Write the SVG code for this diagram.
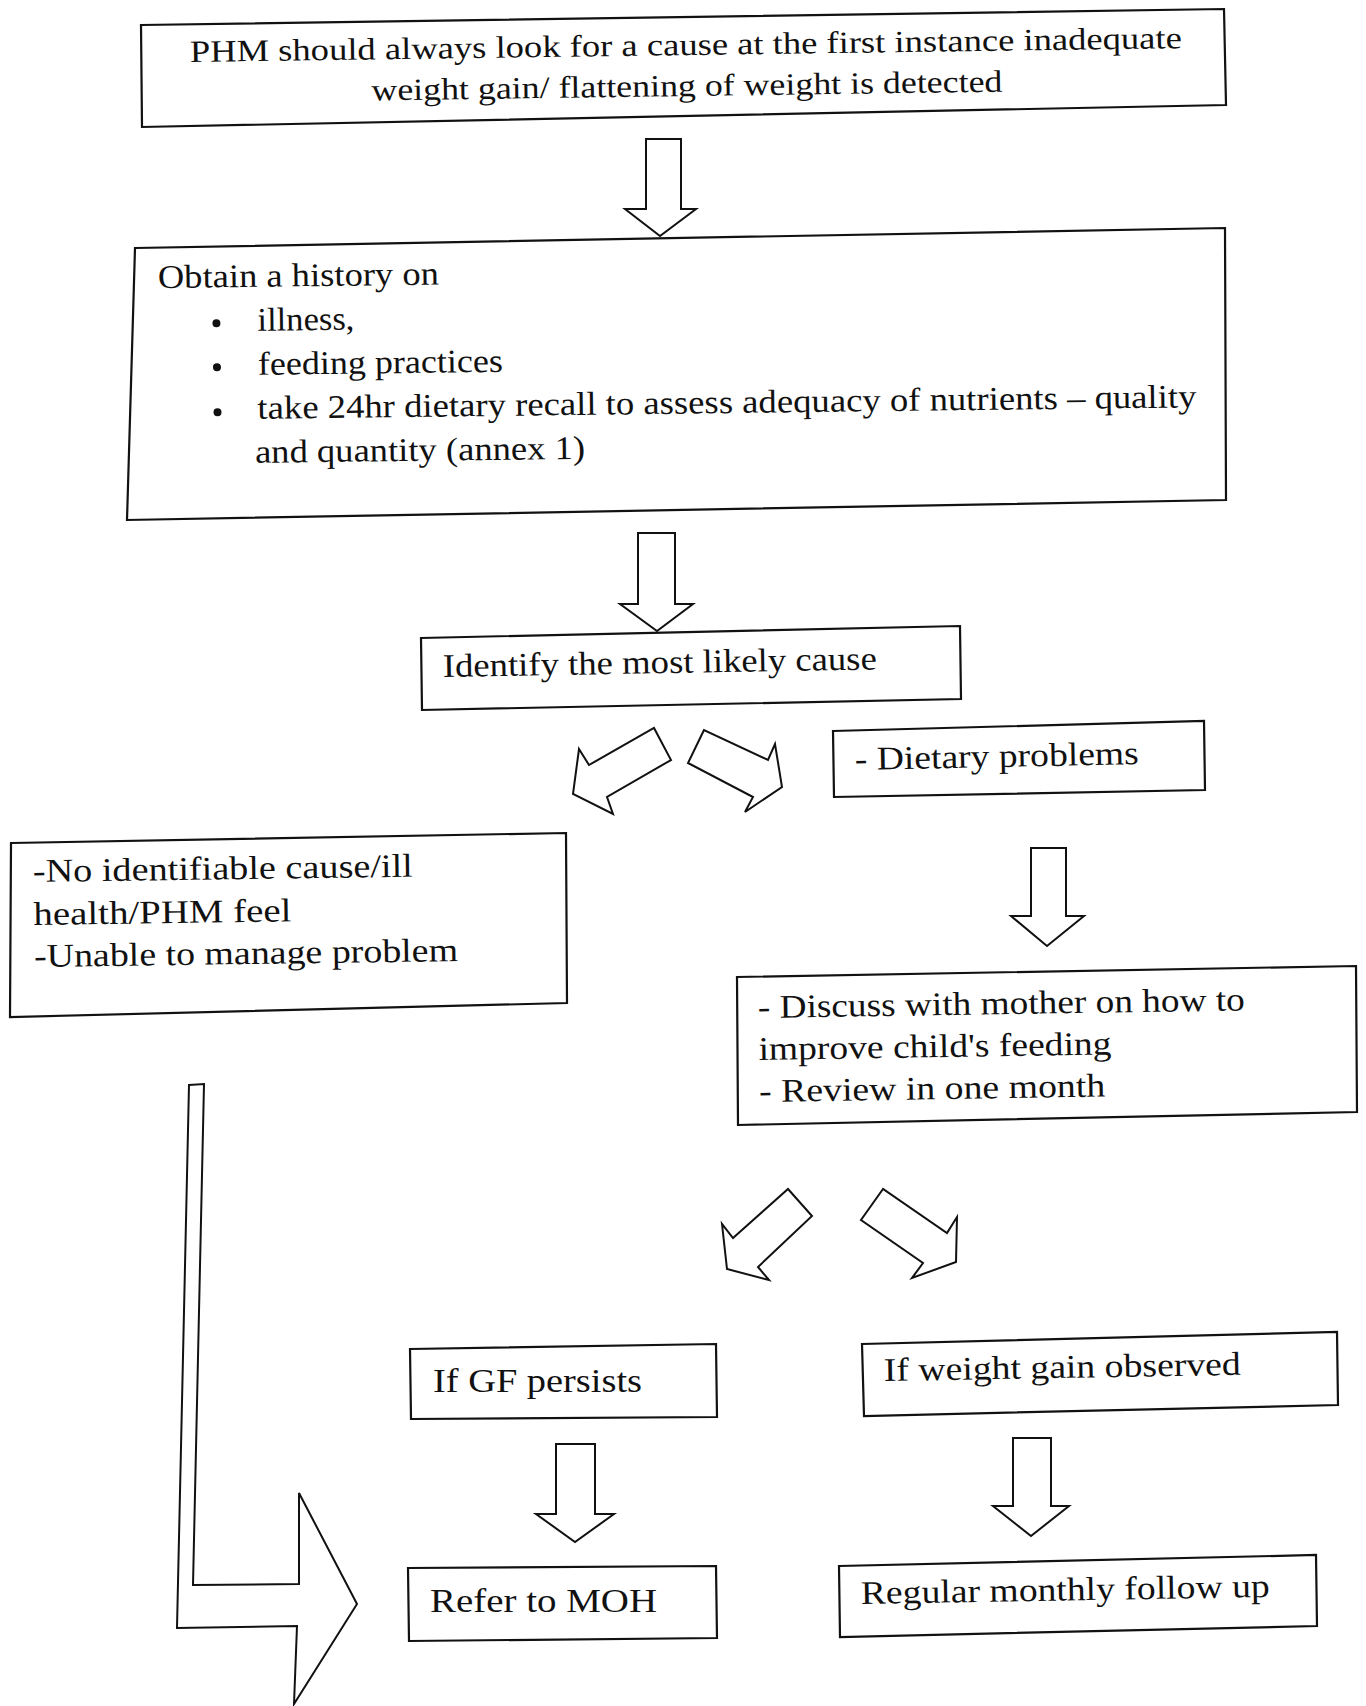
<svg xmlns="http://www.w3.org/2000/svg" width="1366" height="1706" viewBox="0 0 1366 1706">
<style>
.box{fill:none;stroke:#111;stroke-width:2.2;stroke-linejoin:miter}
.arr{fill:#fff;stroke:#111;stroke-width:2;stroke-linejoin:miter}
.t{font-family:"Liberation Serif","Times New Roman",serif;fill:#111;font-size:33px}
.h{font-size:31px}
</style>
<rect width="1366" height="1706" fill="#fff"/>
<g id="connectors">
<polygon class="arr" points="646,139 681,139 681,209 696,209 660,236 625,209 646,209"/>
<polygon class="arr" points="638,533 675,533 675,604 693,604 657,631 620,604 638,604"/>
<polygon class="arr" points="579,749 589,765 654,728 671,760 607,797 613,814 573,794"/>
<polygon class="arr" points="704,730 688,763 753,797 745,812 782,787 775,744 768,760"/>
<polygon class="arr" points="1031,848 1066,848 1066,916 1084,916 1047,946 1011,916 1031,916"/>
<polygon class="arr" points="788,1189 812,1216 758,1267 769,1280 727,1269 722,1224 733,1238"/>
<polygon class="arr" points="883,1189 861,1220 923,1263 912,1278 956,1262 957,1217 947,1233"/>
<polygon class="arr" points="556,1444 595,1444 595,1514 614,1514 575,1542 536,1514 556,1514"/>
<polygon class="arr" points="1013,1438 1051,1438 1051,1506 1069,1506 1031,1536 993,1506 1013,1506"/>
<polygon class="arr" points="189,1085 204,1084 193,1585 299,1584 299,1493 357,1604 294,1704 297,1626 177,1628"/>
</g>
<g id="n1">
<polygon class="box" points="141,25 1224,9 1226,105 142,127"/>
<g transform="rotate(-0.8 190 63)">
<text class="t h" x="190" y="62" textLength="992" lengthAdjust="spacingAndGlyphs">PHM should always look for a cause at the first instance inadequate</text>
<text class="t h" x="371" y="103" textLength="631" lengthAdjust="spacingAndGlyphs">weight gain/ flattening of weight is detected</text>
</g>
</g>
<g id="n2">
<polygon class="box" points="135,248 1225,228 1226,500 127,520"/>
<g transform="rotate(-0.7 158 288)">
<text class="t" x="158" y="288" textLength="281" lengthAdjust="spacingAndGlyphs">Obtain a history on</text>
<circle cx="216" cy="324" r="4" fill="#111"/>
<text class="t" x="257" y="332" textLength="97" lengthAdjust="spacingAndGlyphs">illness,</text>
<circle cx="216" cy="368" r="4" fill="#111"/>
<text class="t" x="257" y="376" textLength="245" lengthAdjust="spacingAndGlyphs">feeding practices</text>
<circle cx="216" cy="413" r="4" fill="#111"/>
<text class="t" x="256" y="420" textLength="939" lengthAdjust="spacingAndGlyphs">take 24hr dietary recall  to assess adequacy of nutrients – quality</text>
<text class="t" x="253" y="464" textLength="330" lengthAdjust="spacingAndGlyphs">and quantity (annex 1)</text>
</g>
</g>
<g id="n3">
<polygon class="box" points="421,638 960,626 961,699 422,710"/>
<text class="t" x="443" y="677" textLength="434" lengthAdjust="spacingAndGlyphs" transform="rotate(-1 443 677)">Identify the most likely cause</text>
</g>
<g id="n4">
<polygon class="box" points="833,731 1204,721 1205,790 834,797"/>
<text class="t" x="855" y="770" textLength="284" lengthAdjust="spacingAndGlyphs" transform="rotate(-1.2 855 770)">- Dietary problems</text>
</g>
<g id="n5">
<polygon class="box" points="11,843 566,833 567,1003 10,1017"/>
<g transform="rotate(-0.8 33 882)">
<text class="t" x="33" y="882" textLength="380" lengthAdjust="spacingAndGlyphs">-No identifiable cause/ill</text>
<text class="t" x="33" y="925" textLength="258" lengthAdjust="spacingAndGlyphs">health/PHM feel</text>
<text class="t" x="33" y="967" textLength="424" lengthAdjust="spacingAndGlyphs">-Unable to manage problem</text>
</g>
</g>
<g id="n6">
<polygon class="box" points="737,977 1356,966 1357,1112 738,1125"/>
<g transform="rotate(-0.9 758 1018)">
<text class="t" x="758" y="1018" textLength="487" lengthAdjust="spacingAndGlyphs">- Discuss with mother on how to</text>
<text class="t" x="758" y="1060" textLength="353" lengthAdjust="spacingAndGlyphs">improve child's feeding</text>
<text class="t" x="758" y="1102" textLength="346" lengthAdjust="spacingAndGlyphs">- Review in one month</text>
</g>
</g>
<g id="n7">
<polygon class="box" points="410,1349 716,1344 717,1417 411,1419"/>
<text class="t" x="433" y="1392" textLength="209" lengthAdjust="spacingAndGlyphs">If GF persists</text>
</g>
<g id="n8">
<polygon class="box" points="862,1344 1337,1332 1338,1405 864,1416"/>
<text class="t" x="884" y="1381" textLength="357" lengthAdjust="spacingAndGlyphs" transform="rotate(-1 884 1381)">If weight gain observed</text>
</g>
<g id="n9">
<polygon class="box" points="408,1568 716,1566 717,1638 409,1641"/>
<text class="t" x="430" y="1612" textLength="227" lengthAdjust="spacingAndGlyphs">Refer to MOH</text>
</g>
<g id="n10">
<polygon class="box" points="839,1566 1316,1555 1317,1626 840,1637"/>
<text class="t" x="861" y="1604" textLength="409" lengthAdjust="spacingAndGlyphs" transform="rotate(-1 861 1604)">Regular monthly follow up</text>
</g>
</svg>
